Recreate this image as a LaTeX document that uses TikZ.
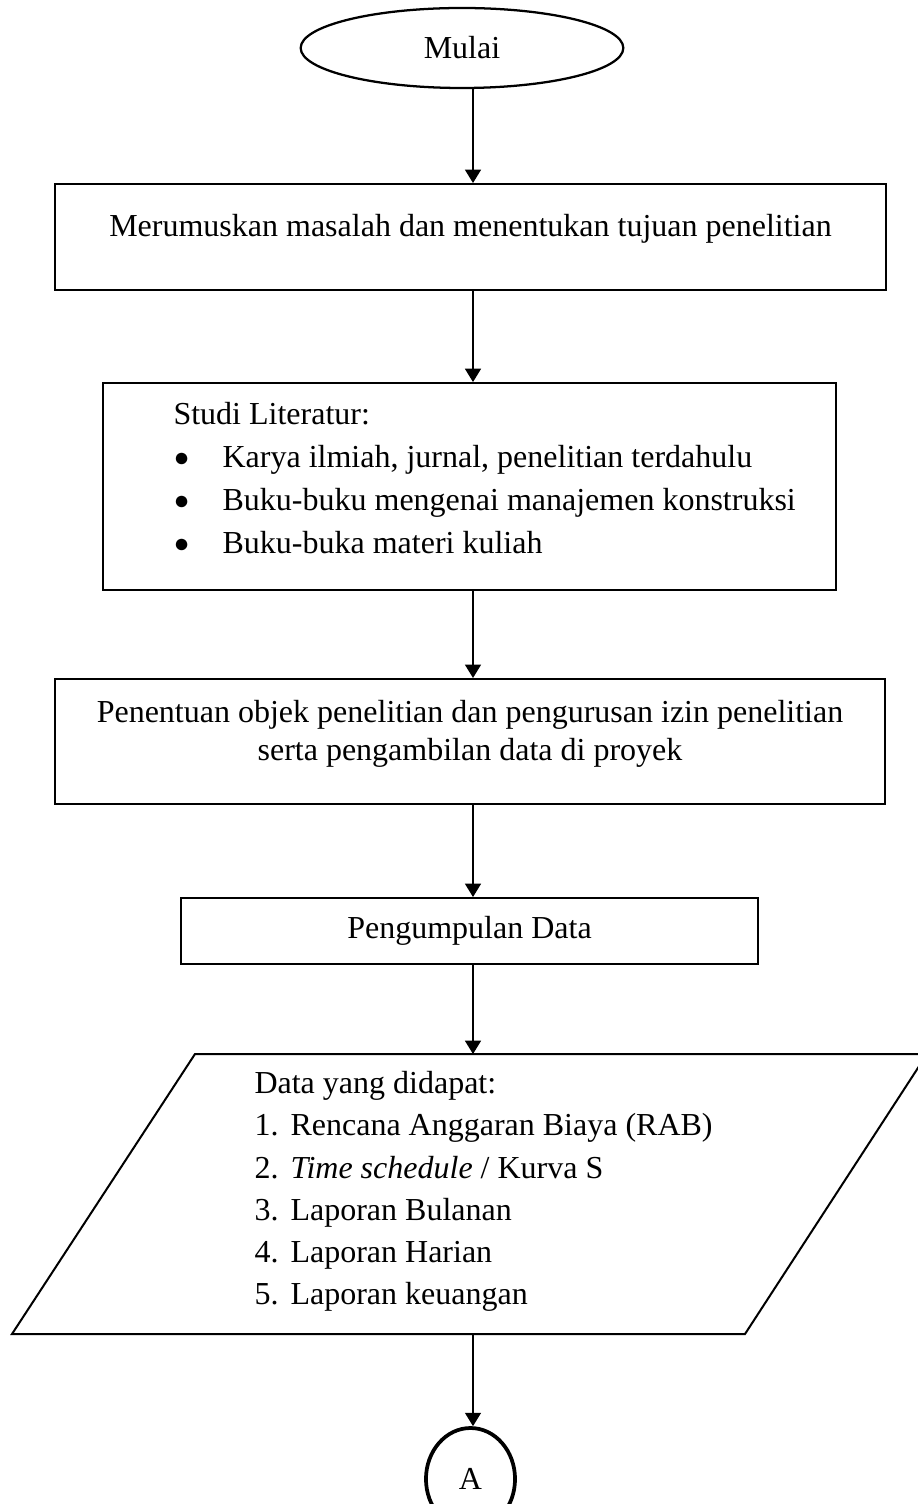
\documentclass[tikz,border=0pt]{standalone}
\usepackage{fontspec}
\setmainfont{Liberation Serif}
\usepackage{tikz}
\usetikzlibrary{arrows.meta}
\usetikzlibrary{shapes.geometric}

\newcommand{\itemDot}{\makebox[18.4pt][l]{\raisebox{0.4pt}{\fontsize{10}{10}\selectfont ●}}}
\newcommand{\itemNum}[1]{\makebox[13.5pt][l]{#1}}

\begin{document}
\begin{tikzpicture}[x=0.375pt, y=-0.375pt]
               \tikzstyle{myBox}=[rectangle, draw, line width=0.75pt, inner sep=0pt, font=\fontsize{12}{14}\selectfont]
               \tikzstyle{myTxt}=[inner sep=0pt, align=left, anchor=north west, font=\fontsize{12}{16.1}\selectfont]
               \tikzstyle{myArr}=[-{Triangle[length=5pt, width=6pt]}, line width=0.5pt]

               \useasboundingbox (0,0) rectangle (917,1504);

               \coordinate (ax) at (473,0);

               \node[myBox, ellipse, line width=0.85pt, minimum width=121pt, minimum height=30pt] (mulai) at (462,48) {Mulai};
               \node[myBox, minimum width=311.6pt, minimum height=39.75pt, text height=8pt, text depth=8pt] (rumus) at (470.5,237) {Merumuskan masalah dan menentukan tujuan penelitian};
               \node[myBox, minimum width=274.9pt, minimum height=77.6pt] (studi) at (469.5,486.5) {};
               \node[myTxt] (studiTxt) at (173,402) {Studi Literatur:\\
                        \itemDot Karya ilmiah, jurnal, penelitian terdahulu\\
                        \itemDot Buku-buku mengenai manajemen konstruksi\\
                        \itemDot Buku-buka materi kuliah};
               \node[myBox, align=center, minimum width=311.25pt, minimum height=46.9pt, text depth=8.2pt, font=\fontsize{12}{14.25}\selectfont] (objek) at (470,741.5) {Penentuan objek penelitian dan pengurusan izin penelitian\\ serta pengambilan data di proyek};
               \node[myBox, minimum width=216.4pt, minimum height=24.75pt] (kumpul) at (469.5,931) {Pengumpulan Data};

               % parallelogram for the data
               \coordinate (dTL) at (195,1054);
               \coordinate (dTR) at (927,1054);
               \coordinate (dBR) at (745,1334);
               \coordinate (dBL) at (12,1334);
               \draw[line width=0.75pt] (dTL) -- (dTR) -- (dBR) -- (dBL) -- cycle;
               \coordinate (dTop) at (473,1054);
               \coordinate (dBot) at (473,1334);
               \node[myTxt, font=\fontsize{12}{15.8}\selectfont] (dataTxt) at (254,1071) {Data yang didapat:\\
                        \itemNum{1.}Rencana Anggaran Biaya (RAB)\\
                        \itemNum{2.}\textit{Time schedule} / Kurva S\\
                        \itemNum{3.}Laporan Bulanan\\
                        \itemNum{4.}Laporan Harian\\
                        \itemNum{5.}Laporan keuangan};
               \node[myBox, ellipse, line width=1.4pt, minimum width=33.4pt, minimum height=38.25pt] (A) at (470.5,1479) {A};

               \draw[myArr] (mulai.south -| ax) -- (rumus.north -| ax);
               \draw[myArr] (rumus.south -| ax) -- (studi.north -| ax);
               \draw[myArr] (studi.south -| ax) -- (objek.north -| ax);
               \draw[myArr] (objek.south -| ax) -- (kumpul.north -| ax);
               \draw[myArr] (kumpul.south -| ax) -- (dTop);
               \draw[myArr] (dBot) -- (A.north -| ax);
            \end{tikzpicture}
\end{document}
